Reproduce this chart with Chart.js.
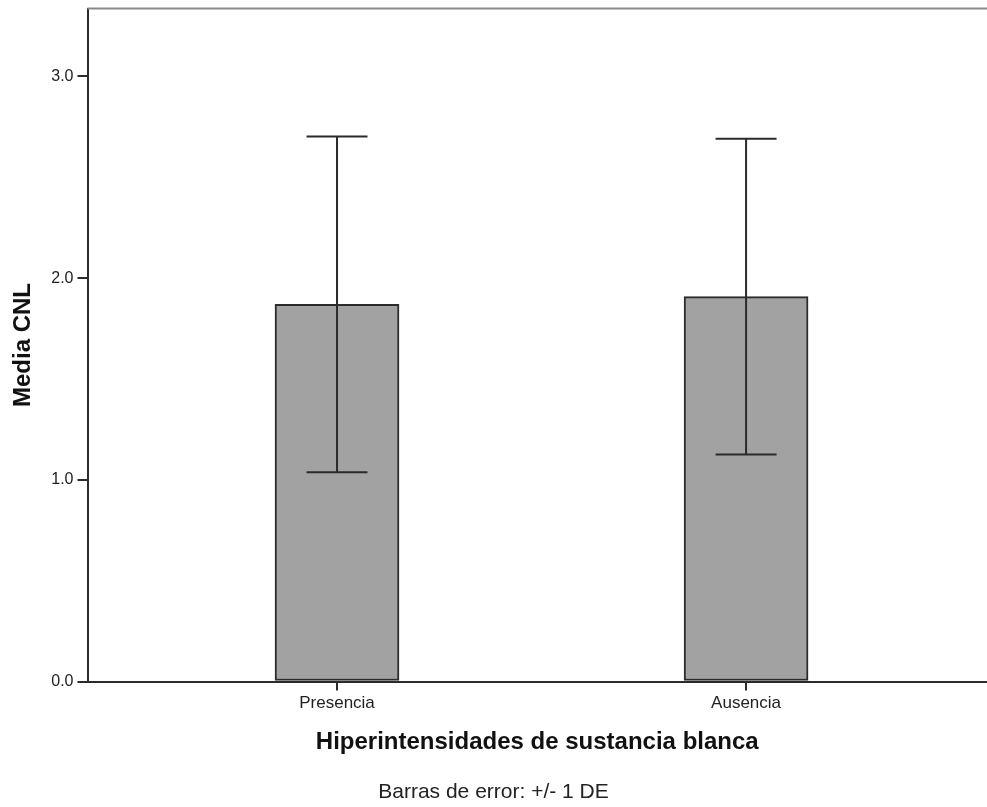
<!DOCTYPE html>
<html>
<head>
<meta charset="utf-8">
<script src="https://cdn.jsdelivr.net/npm/chart.js@4"></script>
<style>
  html, body { margin: 0; padding: 0; background: #fff; overflow: hidden; }
  #wrap { width: 987px; height: 807px; }
</style>
</head>
<body>
<div id="wrap"><canvas id="chart" width="987" height="807"></canvas></div>
<script>
// chart data
const categories = ['Presencia', 'Ausencia'];
const means = [1.870, 1.908];
const sds = [0.832, 0.783];
const yTicks = [0, 1, 2, 3];

const xTitle = 'Hiperintensidades de sustancia blanca';
const yTitle = 'Media CNL';
const footNote = 'Barras de error: +/- 1 DE';

const FONT = "'Liberation Sans', Arial, sans-serif";

// error bars (+/- 1 SD) drawn through the scales
const errorBars = {
    id: 'errorBars',
    afterDatasetsDraw(chart) {
        const ctx = chart.ctx;
        const meta = chart.getDatasetMeta(0);
        const y = chart.scales.y;
        ctx.save();
        ctx.strokeStyle = '#2b2b2b';
        ctx.lineWidth = 2;
        meta.data.forEach((bar, i) => {
            const hi = y.getPixelForValue(means[i] + sds[i]);
            const lo = y.getPixelForValue(means[i] - sds[i]);
            const half = 30.5;
            ctx.beginPath();
            ctx.moveTo(bar.x, hi);
            ctx.lineTo(bar.x, lo);
            ctx.moveTo(bar.x - half, hi);
            ctx.lineTo(bar.x + half, hi);
            ctx.moveTo(bar.x - half, lo);
            ctx.lineTo(bar.x + half, lo);
            ctx.stroke();
        });
        ctx.restore();
    }
};

// grey frame line along the top of the plot
const topFrame = {
    id: 'topFrame',
    beforeDatasetsDraw(chart) {
        const {ctx, chartArea} = chart;
        ctx.save();
        ctx.strokeStyle = '#8a8a8a';
        ctx.lineWidth = 2;
        ctx.beginPath();
        ctx.moveTo(chartArea.left, chartArea.top);
        ctx.lineTo(chartArea.right, chartArea.top);
        ctx.stroke();
        ctx.restore();
    }
};

new Chart(document.getElementById('chart'), {
    type: 'bar',
    data: {
        datasets: [{
            data: categories.map((c, i) => ({ x: i + 1, y: means[i] })),
            backgroundColor: '#a2a2a2',
            borderColor: '#2b2b2b',
            borderWidth: 2,
            borderSkipped: false,
            barThickness: 124
        }]
    },
    options: {
        responsive: false,
        animation: false,
        layout: { padding: { top: 8.5, left: 0, right: 0, bottom: 0 } },
        plugins: {
            legend: { display: false },
            tooltip: { enabled: false },
            subtitle: {
                display: true,
                position: 'bottom',
                text: footNote,
                color: '#222',
                font: { family: FONT, size: 21, weight: 'normal' },
                padding: { top: 0, bottom: 2 }
            }
        },
        scales: {
            x: {
                type: 'linear',
                offset: false,
                min: 0.39,
                max: 2.589,
                afterBuildTicks: axis => { axis.ticks = categories.map((c, i) => ({ value: i + 1 })); },
                afterFit: axis => { axis.height = 98.3; axis.paddingLeft = 0; axis.paddingRight = 0; },
                ticks: {
                    callback: v => categories[v - 1],
                    color: '#222',
                    font: { family: FONT, size: 17 },
                    padding: 3,
                    maxRotation: 0
                },
                grid: { offset: false, drawOnChartArea: false, drawTicks: true, tickLength: 9, color: '#2b2b2b', lineWidth: 2 },
                border: { display: true, color: '#2b2b2b', width: 2 },
                title: {
                    display: true,
                    text: xTitle,
                    color: '#111',
                    font: { family: FONT, size: 24, weight: 'bold' },
                    padding: { top: 0, bottom: 23.4 }
                }
            },
            y: {
                min: 0,
                max: 3.337,
                afterBuildTicks: axis => { axis.ticks = yTicks.map(v => ({ value: v })); },
                afterFit: axis => { axis.width = 87.5; axis.paddingTop = 0; axis.paddingBottom = 0; },
                ticks: {
                    callback: v => v.toFixed(1),
                    color: '#222',
                    font: { family: FONT, size: 16 },
                    padding: 4
                },
                grid: { drawOnChartArea: false, drawTicks: true, tickLength: 10, color: '#2b2b2b', lineWidth: 2 },
                border: { display: true, color: '#2b2b2b', width: 2 },
                title: {
                    display: true,
                    text: yTitle,
                    color: '#111',
                    font: { family: FONT, size: 24, weight: 'bold' },
                    padding: { top: 9, bottom: 0 }
                }
            }
        }
    },
    plugins: [errorBars, topFrame]
});
</script>
</body>
</html>
